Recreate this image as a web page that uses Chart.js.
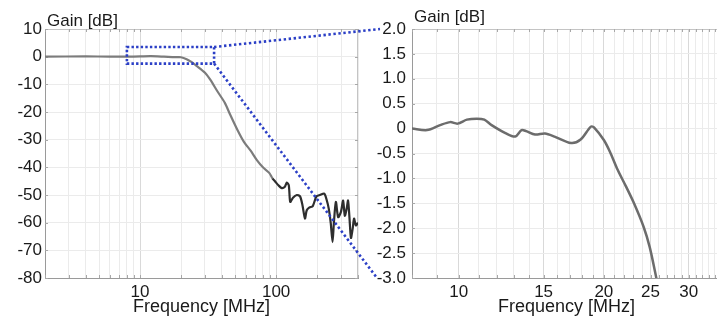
<!DOCTYPE html>
<html><head><meta charset="utf-8">
<script src="https://cdn.jsdelivr.net/npm/chart.js@4/dist/chart.umd.min.js"></script>
<style>
html,body{margin:0;padding:0;background:#fff;overflow:hidden;width:717px;height:325px;}
#wrap{position:relative;width:717px;height:325px;overflow:hidden;}
#c1{position:absolute;left:0;top:0;}
#c2{position:absolute;left:366px;top:0;}
#ov{position:absolute;left:0;top:0;pointer-events:none;}
</style></head><body>
<div id="wrap">
<canvas id="c1" width="364" height="325"></canvas>
<canvas id="c2" width="361" height="325"></canvas>
<canvas id="ov" width="717" height="325"></canvas>
</div>
<script>
// ---------- data ----------
const leftFreqMHz = [2, 4, 6, 8, 10, 12, 15, 18, 20, 22, 24, 26, 30, 33, 37, 42, 46, 52, 58, 65, 72, 80, 89, 94,
  98, 104, 110, 116, 120, 124, 127, 133, 142, 150, 156, 163, 168, 176, 186, 198, 210, 226, 236, 244, 252, 260,
  266, 275, 286, 300, 311, 320, 330, 338, 346, 355, 366, 374, 386, 400];
const leftGainDb = [0, 0.1, 0, 0, 0.1, 0.2, 0, -0.2, -0.2, -0.9, -2, -3.3, -5.8, -8.5, -12.5, -16.7, -21, -26.5, -30.8, -34, -37.3, -40, -42, -44,
  -45, -46.5, -47.5, -47, -45.5, -46.5, -52.5, -51, -50, -50.5, -53.5, -58.5, -55.5, -54.5, -54, -50.5, -50, -49.5, -52, -55, -60, -67,
  -60, -52.5, -58, -56, -52, -57.5, -55, -52, -58, -65.5, -62, -58.5, -61, -60];

const zoomFreqMHz = [8, 8.6, 9.15, 9.6, 9.95, 10.4, 10.9, 11.3, 11.7, 12.5, 13.1, 13.5, 13.8, 14.4, 15.1, 15.8, 17.1, 17.9, 18.8, 19.1, 20.0, 20.6, 21.3, 22.2, 23.1, 24.2, 24.9, 25.7, 26.2];
const zoomGainDb = [0, -0.03, 0.07, 0.13, 0.1, 0.18, 0.2, 0.18, 0.07, -0.09, -0.16, -0.03, -0.05, -0.12, -0.1, -0.16, -0.29, -0.22, 0.04, 0.02, -0.23, -0.47, -0.8, -1.15, -1.5, -1.98, -2.38, -3.0, -3.4];

const leftGridFreqs = [2, 3, 4, 5, 6, 7, 8, 9, 10, 20, 30, 40, 50, 60, 70, 80, 90, 100, 200, 300, 400];
const leftFreqLabels = [10, 100];
const leftGainRange = [-80, 10];
const zoomGridFreqs = [8, 9, 10, 11, 12, 13, 14, 15, 16, 17, 18, 19, 20, 21, 22, 23, 24, 25, 26, 27, 28, 29, 30, 31, 32, 33, 34, 35];
const zoomFreqLabels = [10, 15, 20, 25, 30];
const zoomGainRange = [-3, 2];
const zoomBoxFreq = [8, 35];
const zoomBoxGain = [3.5, -2.5];

// ---------- styles ----------
const FONT = "'Liberation Sans', Arial, Helvetica, sans-serif";
const TXT = '#1a1a1a';
const GRID = '#ebebeb';
const GRID_MAJOR = '#d9d9d9';
const AXIS = '#9a9a9a';
const BLUE = '#2b3fc6';

Chart.defaults.animation = false;

const framePlugin = {
  id: 'frame',
  beforeDatasetsDraw(chart) {
    const a = chart.chartArea, c = chart.ctx;
    c.save(); c.strokeStyle = '#c4c4c4'; c.lineWidth = 1;
    c.beginPath();
    c.moveTo(a.left, a.top + 0.5); c.lineTo(a.right, a.top + 0.5);
    c.moveTo(a.right - 0.5, a.top); c.lineTo(a.right - 0.5, a.bottom);
    c.stroke();
    // small inner tick marks on all four edges
    c.strokeStyle = '#a8a8a8';
    c.beginPath();
    chart.scales.x.ticks.forEach(t => {
      const px = Math.round(chart.scales.x.getPixelForValue(t.value)) + 0.5;
      c.moveTo(px, a.bottom); c.lineTo(px, a.bottom - 3);
      c.moveTo(px, a.top); c.lineTo(px, a.top + 3);
    });
    chart.scales.y.ticks.forEach(t => {
      const py = Math.round(chart.scales.y.getPixelForValue(t.value)) + 0.5;
      c.moveTo(a.left, py); c.lineTo(a.left + 3, py);
      c.moveTo(a.right, py); c.lineTo(a.right - 3, py);
    });
    c.stroke();
    c.restore();
  }
};
function titlePlugin(baseline) {
  return {
    id: 'ytitle',
    afterDraw(chart) {
      const c = chart.ctx;
      c.save(); c.fillStyle = TXT; c.font = '17px ' + FONT; c.textBaseline = 'alphabetic';
      c.fillText('Gain [dB]', chart.chartArea.left + 2, baseline);
      c.restore();
    }
  };
}
const boxPlugin = {
  id: 'zoombox',
  afterDatasetsDraw(chart) {
    const xs = chart.scales.x, ys = chart.scales.y, c = chart.ctx;
    const x0 = xs.getPixelForValue(zoomBoxFreq[0]), x1 = xs.getPixelForValue(zoomBoxFreq[1]);
    const y0 = ys.getPixelForValue(zoomBoxGain[0]), y1 = ys.getPixelForValue(zoomBoxGain[1]);
    c.save(); c.strokeStyle = BLUE; c.lineWidth = 2.6; c.setLineDash([2.4, 2.2]);
    c.strokeRect(x0, y0, x1 - x0, y1 - y0);
    c.restore();
  }
};

function xy(fs, gs) { return fs.map((f, i) => ({ x: f, y: gs[i] })); }

function logX(min, max, grid, labels) {
  return {
    type: 'logarithmic', min: min, max: max,
    afterBuildTicks(s) { s.ticks = grid.map(v => ({ value: v })); },
    afterFit(s) { s.height = 47; },
    ticks: {
      autoSkip: false, maxRotation: 0, minRotation: 0, padding: 6, color: TXT,
      font: { family: FONT, size: 17, lineHeight: 1 },
      callback: v => labels.includes(v) ? String(v) : ''
    },
    grid: { drawTicks: false, color: ctx => (ctx.tick && labels.includes(ctx.tick.value)) ? GRID_MAJOR : GRID, lineWidth: 1 },
    border: { color: AXIS, width: 1 },
    title: { display: true, text: 'Frequency [MHz]', color: TXT, font: { family: FONT, size: 18, lineHeight: 1 }, padding: { top: 0, bottom: 9 } }
  };
}

const chartL = new Chart(document.getElementById('c1'), {
  type: 'line',
  data: { datasets: [{
    data: xy(leftFreqMHz, leftGainDb),
    borderColor: '#7c7c7c', borderWidth: 2.2, pointRadius: 0, tension: 0.25,
    segment: { borderColor: ctx => ctx.p0.parsed.x >= 94 ? '#2e2e2e' : '#7c7c7c' }
  }] },
  options: {
    responsive: false, devicePixelRatio: 1,
    layout: { padding: { top: 29, right: 3, left: 0, bottom: 0 } },
    plugins: { legend: { display: false }, tooltip: { enabled: false } },
    scales: {
      x: logX(2, 400, leftGridFreqs, leftFreqLabels),
      y: {
        min: leftGainRange[0], max: leftGainRange[1],
        afterFit(s) { s.width = 45; },
        ticks: { stepSize: 10, padding: 3, color: TXT, font: { family: FONT, size: 17 } },
        grid: { drawTicks: false, color: GRID },
        border: { color: AXIS }
      }
    }
  },
  plugins: [framePlugin, boxPlugin, titlePlugin(26)]
});

const chartR = new Chart(document.getElementById('c2'), {
  type: 'line',
  data: { datasets: [{
    data: xy(zoomFreqMHz, zoomGainDb),
    borderColor: '#6c6c6c', borderWidth: 2.5, pointRadius: 0, tension: 0.3
  }] },
  options: {
    responsive: false, devicePixelRatio: 1,
    layout: { padding: { top: 29, right: 1, left: 0, bottom: 0 } },
    plugins: { legend: { display: false }, tooltip: { enabled: false } },
    scales: {
      x: logX(8, 35, zoomGridFreqs, zoomFreqLabels),
      y: {
        min: zoomGainRange[0], max: zoomGainRange[1],
        afterFit(s) { s.width = 46; },
        ticks: { stepSize: 0.5, padding: 6, color: TXT, font: { family: FONT, size: 17 },
          callback: v => v === 0 ? '0' : v.toFixed(1) },
        grid: { drawTicks: false, color: GRID },
        border: { color: AXIS }
      }
    }
  },
  plugins: [framePlugin, titlePlugin(22)]
});

// connectors from zoom box to right chart
(function () {
  const c = document.getElementById('ov').getContext('2d');
  const xs = chartL.scales.x, ys = chartL.scales.y;
  const bx = xs.getPixelForValue(zoomBoxFreq[1]);
  const byT = ys.getPixelForValue(zoomBoxGain[0]);
  const byB = ys.getPixelForValue(zoomBoxGain[1]);
  const off = document.getElementById('c2').offsetLeft;
  const rx = off + chartR.chartArea.left;
  const ryT = chartR.scales.y.getPixelForValue(zoomGainRange[1]);
  const ryB = chartR.scales.y.getPixelForValue(zoomGainRange[0]);
  c.strokeStyle = BLUE; c.lineWidth = 2.6; c.setLineDash([2.4, 2.6]);
  c.beginPath(); c.moveTo(bx, byT); c.lineTo(rx - 32, ryT); c.stroke();
  c.beginPath(); c.moveTo(bx, byB); c.lineTo(rx - 35, ryB); c.stroke();
})();
</script>
</body></html>
